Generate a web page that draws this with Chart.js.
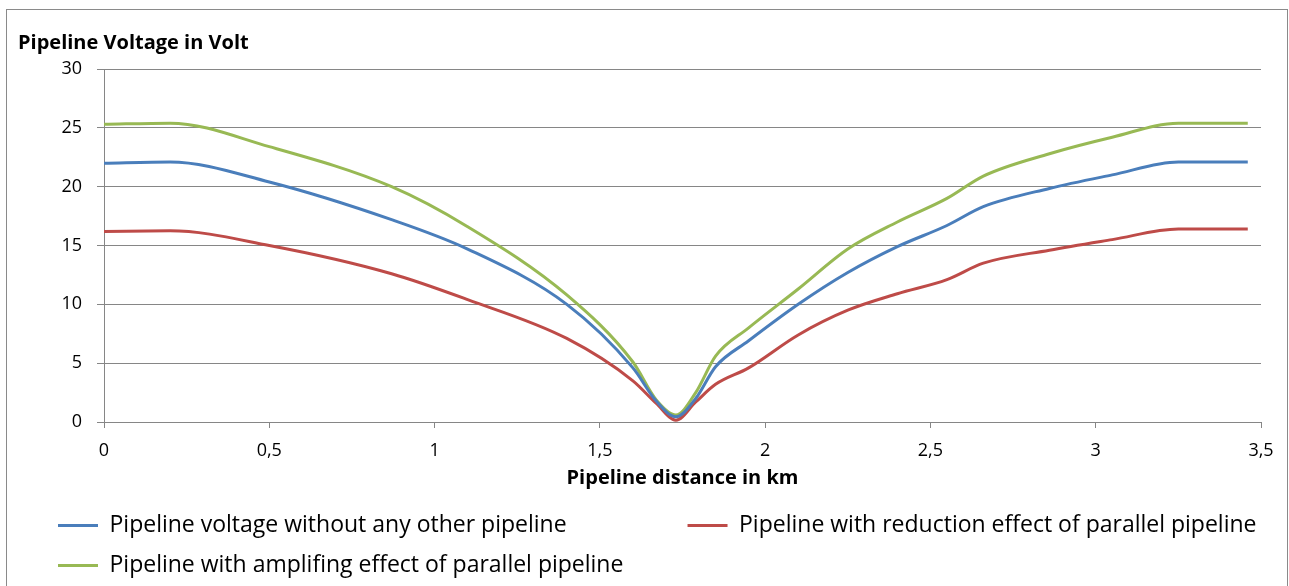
<!DOCTYPE html>
<html>
  <head>
    <title>Pipeline Voltage</title>
    <script src="https://cdn.jsdelivr.net/npm/chart.js"></script>
    <style>
      body { margin: 0; background: #fff; }
      #wrap { width: 1289px; height: 586px; }
    </style>
  </head>
  <body>
    <div id="wrap"><canvas id="voltage"></canvas></div>
    <script>
      // distance along the pipeline (km)
      const distanceKm = [0, 0.2, 0.5, 0.87, 1.1, 1.4, 1.6, 1.67, 1.73, 1.79, 1.85, 1.95, 2.1, 2.25, 2.4, 2.55, 2.66, 2.86, 3.05, 3.25, 3.46];
      // voltage in volt
      const voltageAlone     = [22.0, 22.1, 20.4, 17.2, 14.7, 10.0, 4.6, 1.8, 0.45, 2.0, 4.7, 6.9, 10.0, 12.7, 14.9, 16.7, 18.3, 19.85, 21.0, 22.1, 22.1];
      const voltageReduced   = [16.2, 16.25, 15.0, 12.6, 10.4, 7.1, 3.5, 1.6, 0.15, 1.7, 3.2, 4.6, 7.4, 9.5, 10.9, 12.1, 13.5, 14.6, 15.5, 16.4, 16.4];
      const voltageAmplified = [25.3, 25.4, 23.4, 20.0, 16.6, 10.8, 5.1, 1.9, 0.6, 2.5, 5.6, 8.0, 11.3, 14.7, 17.0, 19.0, 20.9, 22.8, 24.2, 25.4, 25.4];

      const seriesNames = [
        "Pipeline voltage without any other pipeline",
        "Pipeline with reduction effect of parallel pipeline",
        "Pipeline with amplifing effect of parallel pipeline",
      ];
      const seriesColors = ["#4A7EBB", "#BE4B48", "#98B954"];

      const xTicks = [0, 0.5, 1, 1.5, 2, 2.5, 3, 3.5];

      function toPoints(values) {
        return distanceKm.map((d, i) => ({ x: d, y: values[i] }));
      }

      const gray = "#868686";
      const fontName = "'Open Sans', sans-serif";

      // grey frame around the whole chart
      const frame = {
        id: "frame",
        beforeDraw(chart) {
          const c = chart.ctx;
          c.save();
          c.strokeStyle = "#8a8a8a";
          c.lineWidth = 1;
          c.strokeRect(6.5, 9.5, 1281, 600);
          c.restore();
        },
      };
      // move legend a bit to the right, title stays on the left
      const legendShift = {
        id: "legendShift",
        afterLayout(chart) {
          chart.legend.left += 23;
          chart.legend.right += 23;
        },
      };

      const datasets = [voltageAlone, voltageReduced, voltageAmplified].map((v, i) => ({
        label: seriesNames[i],
        data: toPoints(v),
        borderColor: seriesColors[i],
        backgroundColor: seriesColors[i],
        borderWidth: 3,
        pointRadius: 0,
        cubicInterpolationMode: "monotone",
        fill: false,
      }));

      new Chart(document.getElementById("voltage"), {
        type: "line",
        data: { datasets: datasets },
        plugins: [frame, legendShift],
        options: {
          responsive: true,
          maintainAspectRatio: false,
          animation: false,
          layout: { padding: { left: 18, right: 28, top: 0, bottom: -1 } },
          plugins: {
            tooltip: { enabled: false },
            title: {
              display: true,
              text: "Pipeline Voltage in Volt",
              align: "start",
              color: "#000",
              font: { family: fontName, size: 20, weight: "bold" },
              padding: { top: 31, bottom: 14 },
            },
            legend: {
              position: "bottom",
              align: "start",
              labels: {
                color: "#000",
                font: { family: fontName, size: 23 },
                boxWidth: 40,
                boxHeight: 3,
                padding: 17,
                generateLabels(chart) {
                  const items = Chart.defaults.plugins.legend.labels.generateLabels(chart);
                  items.forEach((it) => { it.lineWidth = 0; });
                  // pad first entry so the second one lines up in a second column
                  items[0].text = items[0].text + "\u2003\u2003\u2003\u2003  ";
                  return items;
                },
              },
            },
          },
          scales: {
            x: {
              type: "linear",
              min: 0,
              max: 3.5,
              afterBuildTicks(scale) {
                scale.ticks = xTicks.map((v) => ({ value: v }));
              },
              afterFit(scale) {
                scale.height = 75;
              },
              grid: { drawOnChartArea: false, color: gray, tickLength: 6 },
              border: { color: gray },
              ticks: {
                color: "#000",
                padding: 12,
                maxRotation: 0,
                font: { family: fontName, size: 18 },
                callback: (v) => String(v).replace(".", ","),
              },
              title: {
                display: true,
                text: "Pipeline distance in km",
                color: "#000",
                font: { family: fontName, size: 20, weight: "bold" },
                padding: { top: 0, bottom: 7 },
              },
            },
            y: {
              min: 0,
              max: 30,
              afterFit(scale) {
                scale.width = 86;
              },
              grid: { color: gray, tickLength: 7 },
              border: { color: gray },
              ticks: {
                stepSize: 5,
                color: "#000",
                padding: 15,
                font: { family: fontName, size: 18 },
              },
            },
          },
        },
      });
    </script>
  </body>
</html>
